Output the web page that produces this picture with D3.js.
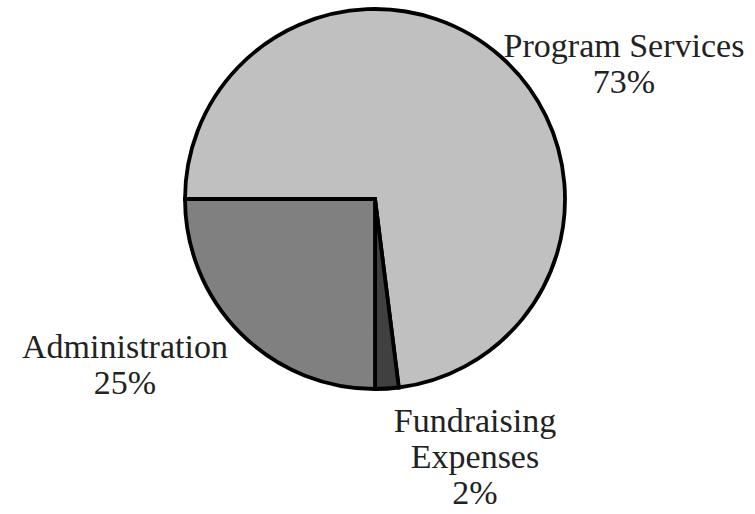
<!DOCTYPE html>
<html>
<head>
<meta charset="utf-8">
<script src="https://cdn.jsdelivr.net/npm/d3@7"></script>
<style>
  body { margin: 0; background: #fff; }
  .lbl { font-family: "Palatino Linotype", Palatino, "URW Palladio L", P052, "Liberation Serif", serif; font-size: 34px; fill: #222; }
</style>
</head>
<body>
<div class="chart"></div>
<script>
var categories = ['Program Services', 'Fundraising Expenses', 'Administration'];
var values = [73, 2, 25];
var colors = ['#c0c0c0', '#404040', '#808080'];
// label lines and their anchor points (in px from chart origin)
var labelLines = [['Program Services', '73%'], ['Fundraising', 'Expenses', '2%'], ['Administration', '25%']];
var labelPos = [[624, 57], [475, 432], [125, 358]];

var width = 755, height = 514;
var cx = 375, cy = 199, radius = 190;

var svg = d3.select('.chart')
  .append('svg')
    .attr('width', width)
    .attr('height', height);

var data = categories.map((c, i) => ({ name: c, value: values[i], color: colors[i], lines: labelLines[i], pos: labelPos[i] }));

var pie = d3.pie()
    .sort(null)
    .value(d => d.value)
    .startAngle(-Math.PI / 2)
    .endAngle(3 * Math.PI / 2);

var arc = d3.arc().innerRadius(0).outerRadius(radius);

var g = svg.append('g')
    .attr('transform', 'translate(' + cx + ',' + cy + ')');

g.selectAll('path')
  .data(pie(data))
  .enter()
  .append('path')
    .attr('d', arc)
    .attr('fill', d => d.data.color)
    .attr('stroke', '#000')
    .attr('stroke-width', 3.8)
    .attr('stroke-linejoin', 'miter');

// labels
var lineH = 36;
data.forEach(function(d) {
  var t = svg.append('text')
      .attr('class', 'lbl')
      .attr('text-anchor', 'middle');
  d.lines.forEach(function(s, j) {
    t.append('tspan')
      .attr('x', d.pos[0])
      .attr('y', d.pos[1] + j * lineH)
      .text(s);
  });
});
</script>
</body>
</html>
